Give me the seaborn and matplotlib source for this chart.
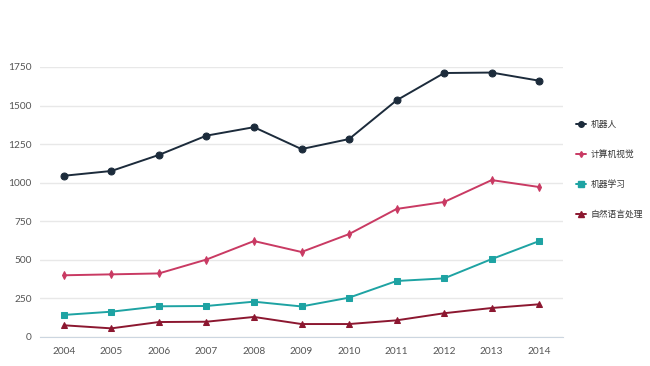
import seaborn as sns
import numpy as np
import pandas as pd
import matplotlib
matplotlib.use('Agg')
import matplotlib.pyplot as plt
from matplotlib.lines import Line2D

years = ['2004', '2005', '2006', '2007', '2008', '2009', '2010', '2011', '2012', '2013', '2014']
series_names = ['机器人', '计算机视觉', '机器学习', '自然语言处理']
robot = [1045, 1076, 1180, 1305, 1360, 1218, 1283, 1534, 1711, 1714, 1661]
vision = [400, 406, 412, 502, 622, 551, 667, 830, 875, 1017, 972]
learning = [143, 164, 199, 201, 229, 198, 255, 363, 380, 505, 622]
nlp = [76, 56, 97, 99, 130, 84, 84, 108, 154, 188, 212]
y_ticks = [0, 250, 500, 750, 1000, 1250, 1500, 1750]

colors = ['#1c2b3b', '#c93a63', '#1ea3a3', '#8c1730']
markers = ['o', 'd', 's', '^']
msizes = [5, 4, 5, 5]

rows = []
for name, vals in zip(series_names, [robot, vision, learning, nlp]):
    for i, v in enumerate(vals):
        rows.append({'x': i, 'year': years[i], 'value': v, 'series': name})
df = pd.DataFrame(rows)

sns.set_style('white')
plt.rcParams['font.family'] = ['Lato', 'Noto Sans CJK SC', 'DejaVu Sans']

fig = plt.figure(figsize=(6.5, 3.66), dpi=100)
ax = fig.add_axes([40 / 650, 29 / 366, 523 / 650, 270 / 366])

for name, c, m, ms in zip(series_names, colors, markers, msizes):
    sub = df[df['series'] == name]
    sns.lineplot(data=sub, x='x', y='value', color=c, marker=m, markersize=ms,
                 markeredgecolor=c, linewidth=1.4, ax=ax, clip_on=False, legend=False)

ax.set_xlim(-0.5, len(years) - 0.5)
ax.set_ylim(0, 1750)
ax.set_yticks(y_ticks)
ax.set_yticklabels([str(t) for t in y_ticks], fontsize=7.3, color='#555555')
ax.set_xticks(range(len(years)))
ax.set_xticklabels(years, fontsize=7.3, color='#555555')
ax.set_xticks(np.arange(-0.5, len(years)), minor=True)
ax.tick_params(axis='x', which='major', length=0, pad=7)
ax.tick_params(axis='x', which='minor', length=5, color='#ccd6e0', width=1)
ax.tick_params(axis='y', length=0, pad=6)
ax.grid(axis='y', color='#e8e8e8', linewidth=1)
ax.set_axisbelow(True)
for s in ['top', 'right', 'left']:
    ax.spines[s].set_visible(False)
ax.spines['bottom'].set_color('#ccd6e0')
ax.set_xlabel('')
ax.set_ylabel('')

handles = [Line2D([0], [0], color=c, marker=m, markersize=ms - 1, linewidth=1.4)
           for c, m, ms in zip(colors, markers, msizes)]
leg = fig.legend(handles, series_names, loc='upper left', bbox_to_anchor=(568 / 650, 1 - 112 / 366),
                 frameon=False, fontsize=6.3, handlelength=1.1, labelspacing=2.4,
                 handletextpad=0.6)
for t in leg.get_texts():
    t.set_color('#333333')

fig.savefig('out.png', dpi=100)
